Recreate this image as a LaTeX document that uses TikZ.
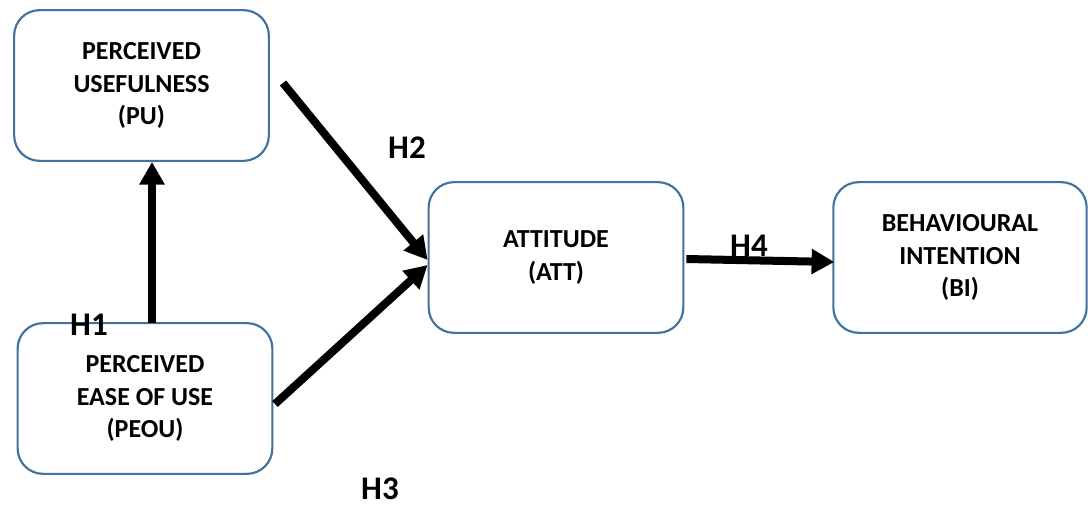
\documentclass[tikz,border=0pt]{standalone}
\usepackage{fontspec}
\setmainfont{Carlito}
\usetikzlibrary{arrows.meta,calc}
\definecolor{boxblue}{HTML}{41719C}
\tikzset{
  cbox/.style={draw=boxblue, line width=1.6pt, rounded corners=19pt, fill=white,
    minimum width=191pt, minimum height=113pt, align=center, inner sep=0pt,
    font=\fontsize{19.5}{24.5}\selectfont\bfseries},
  harrow/.style={line width=6pt, -{Triangle[length=17pt,width=18pt]}},
  hlabel/.style={font=\fontsize{24.75}{28}\selectfont\bfseries, inner sep=0pt}
}
\begin{document}
\begin{tikzpicture}[x=0.75pt,y=-0.75pt]
\useasboundingbox (0,0) rectangle (1088,506);
\node[cbox] (pu) at (141.5,85.5) {PERCEIVED\\USEFULNESS\\(PU)};
\node[cbox] (peou) at (145,398.5) {PERCEIVED\\EASE OF USE\\(PEOU)};
\node[cbox] (att) at (556,257.5) {ATTITUDE\\(ATT)};
\node[cbox, minimum width=190pt] (bi) at (960,257.5) {BEHAVIOURAL\\INTENTION\\(BI)};
\coordinate (h1s) at (152,323);
\coordinate (h2s) at (283,83);
\coordinate (h3s) at (275,404);
\draw[harrow] (h1s) -- (h1s |- pu.south);
\draw[harrow] (h2s) -- ($(att.west)+(0,2.5)$);
\draw[harrow] (h3s) -- ($(att.west)+(0,7.5)$);
\draw[harrow] ($(att.east)+(2,1.5)$) -- ($(bi.west)+(2,4.5)$);
\node[hlabel] (l1) at (89,325) {H1};
\node[hlabel] (l2) at (407,148) {H2};
\node[hlabel] (l3) at (380,489) {H3};
\node[hlabel] (l4) at (749,246) {H4};
\end{tikzpicture}
\end{document}
